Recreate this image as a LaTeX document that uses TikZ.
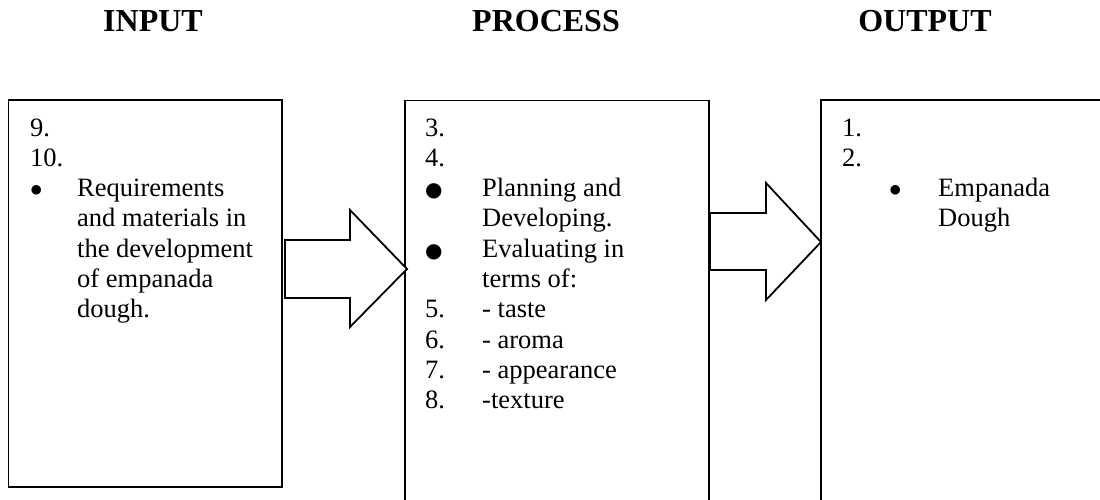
\documentclass[tikz,border=0pt]{standalone}
\usepackage{fontspec}
\setmainfont{Liberation Serif}
\begin{document}
\begin{tikzpicture}[x=1pt,y=-1pt,
  box/.style={draw,line width=1.8pt},
  blockarrow/.style={draw,line width=1.8pt,fill=white,line join=miter},
  title/.style={anchor=base,inner sep=0pt,font=\fontsize{32}{36}\selectfont\bfseries},
  txt/.style={anchor=base west,inner sep=0pt,font=\fontsize{26.5}{30}\selectfont}]
\useasboundingbox (0,0) rectangle (1100,500);
\clip (0,0) rectangle (1100,500);
% titles
\node[title] (tin) at (153,32) {INPUT};
\node[title] (tpr) at (546,32) {PROCESS};
\node[title] (tout) at (925,32) {OUTPUT};
% boxes
\draw[box] (8.5,100) rectangle (282,487);
\draw[box] (405,100.5) rectangle (709,520);
\draw[box] (821,100) rectangle (1120,520);
% arrows
\coordinate (a1tip) at (407,269);
\draw[blockarrow] (285,240) -- (350,240) -- (350,210) -- (a1tip) -- (350,327) -- (350,298) -- (285,298) -- cycle;
\coordinate (a2tip) at (821,242);
\draw[blockarrow] (710,213) -- (766,213) -- (766,183) -- (a2tip) -- (766,300) -- (766,270) -- (710,270) -- cycle;
% input text
\node[txt] (i1) at (30,136) {9.};
\node[txt] (i2) at (30,166.3) {10.};
\node[txt] (ib) at (30,196.6) {$\bullet$};
\node[txt] (i3) at (77,196.6) {Requirements};
\node[txt] (i4) at (77,226.9) {and materials in};
\node[txt] (i5) at (77,257.2) {the development};
\node[txt] (i6) at (77,287.5) {of empanada};
\node[txt] (i7) at (77,317.8) {dough.};
% process text
\node[txt] (p1) at (425,136) {3.};
\node[txt] (p2) at (425,166.3) {4.};
\node[txt] (pb1) at (425,196.6) {\fontspec{DejaVu Sans}\fontsize{20}{24}\selectfont ●};
\node[txt] (p3) at (482,196.6) {Planning and};
\node[txt] (p4) at (482,226.9) {Developing.};
\node[txt] (pb2) at (425,257.2) {\fontspec{DejaVu Sans}\fontsize{20}{24}\selectfont ●};
\node[txt] (p5) at (482,257.2) {Evaluating in};
\node[txt] (p6) at (482,287.5) {terms of:};
\node[txt] (p7n) at (425,317.8) {5.};
\node[txt] (p7) at (482,317.8) {- taste};
\node[txt] (p8n) at (425,348.1) {6.};
\node[txt] (p8) at (482,348.1) {- aroma};
\node[txt] (p9n) at (425,378.4) {7.};
\node[txt] (p9) at (482,378.4) {- appearance};
\node[txt] (p10n) at (425,408.7) {8.};
\node[txt] (p10) at (482,408.7) {-texture};
% output text
\node[txt] (o1) at (842,136) {1.};
\node[txt] (o2) at (842,166.3) {2.};
\node[txt] (ob) at (889,196.6) {$\bullet$};
\node[txt] (o3) at (938,196.6) {Empanada};
\node[txt] (o4) at (938,226.9) {Dough};
\end{tikzpicture}
\end{document}
